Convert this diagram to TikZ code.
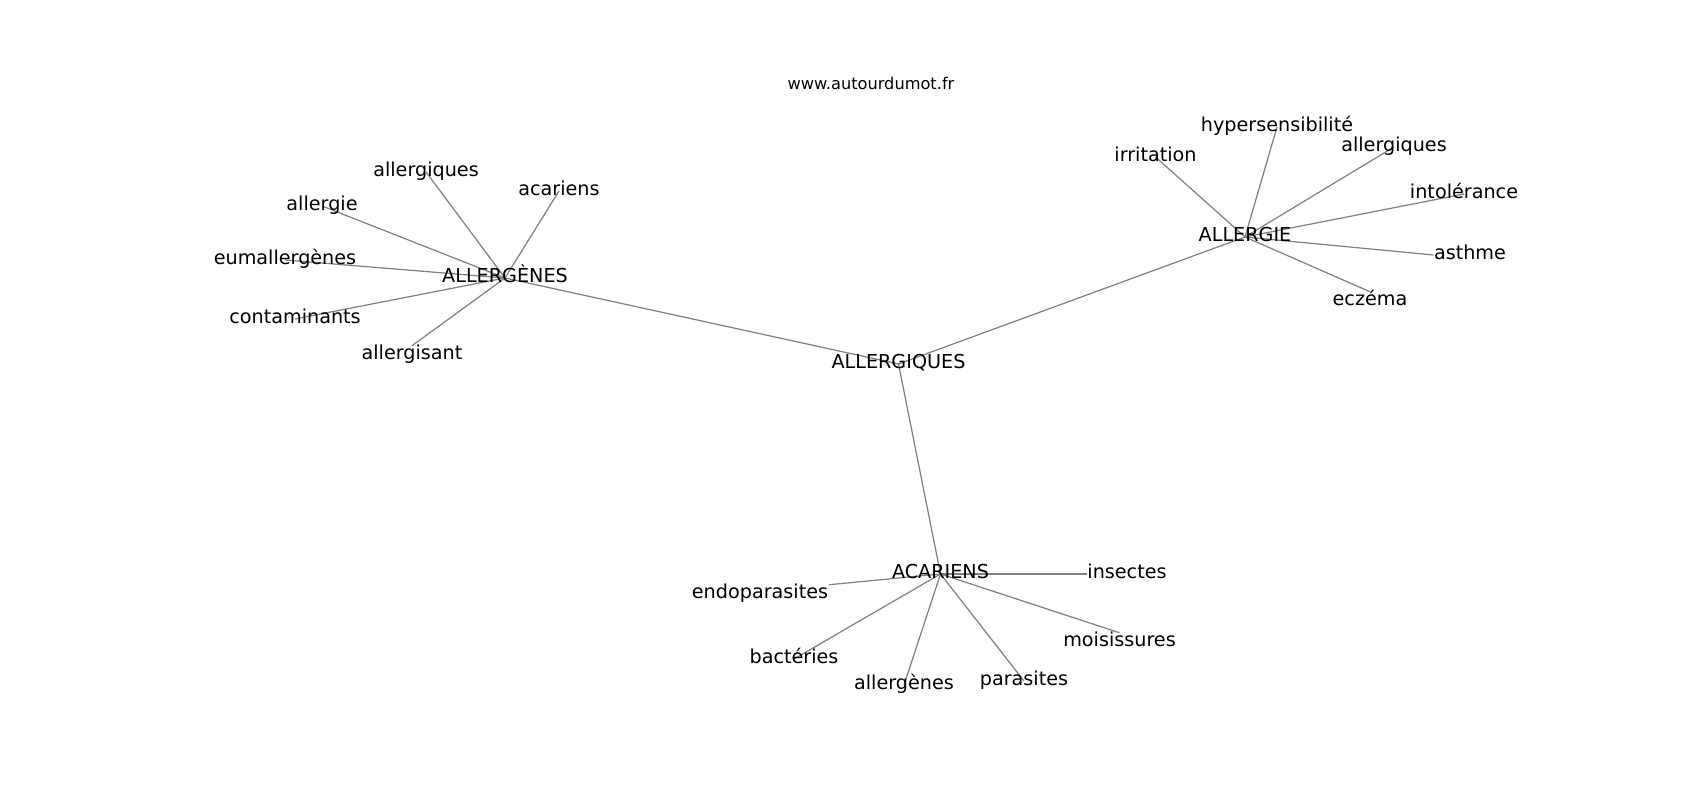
\documentclass[tikz,border=0pt]{standalone}
\usepackage{fontspec}
\setmainfont{DejaVu Sans}
\usetikzlibrary{backgrounds}
\newcommand{\wordfont}{\fontsize{5.46}{6.5}\selectfont}
\newcommand{\sitefont}{\fontsize{4.61}{5.5}\selectfont}
\begin{document}
\begin{tikzpicture}[word/.style={inner sep=0pt, text height=3.6pt, text depth=1.25pt, font=\wordfont},
  edge/.style={draw=gray, line width=0.35pt}]
\useasboundingbox (0,0) rectangle (17,8);
\node[inner sep=0pt, font=\sitefont] (site) at (8.71,7.17) {www.autourdumot.fr};

\node[word] (ALLERGIQUES) at (8.985,4.36) {ALLERGIQUES};
\node[word] (ALLERGENES) at (5.05,5.22) {ALLERGÈNES};
\node[word] (ALLERGIE) at (12.45,5.63) {ALLERGIE};
\node[word] (ACARIENS) at (9.405,2.26) {ACARIENS};

% autour de ALLERGENES
\node[word] (allergiques1) at (4.26,6.28) {allergiques};
\node[word] (acariens1) at (5.59,6.09) {acariens};
\node[word] (allergie1) at (3.22,5.94) {allergie};
\node[word] (eumallergenes) at (2.85,5.40) {eumallergènes};
\node[word] (contaminants) at (2.95,4.81) {contaminants};
\node[word] (allergisant) at (4.12,4.45) {allergisant};

% autour de ALLERGIE
\node[word] (irritation) at (11.555,6.43) {irritation};
\node[word] (hypersensibilite) at (12.77,6.73) {hypersensibilité};
\node[word] (allergiques2) at (13.94,6.53) {allergiques};
\node[word] (intolerance) at (14.64,6.06) {intolérance};
\node[word] (asthme) at (14.70,5.45) {asthme};
\node[word] (eczema) at (13.70,4.99) {eczéma};

% autour de ACARIENS
\node[word] (insectes) at (11.27,2.26) {insectes};
\node[word] (endoparasites) at (7.60,2.06) {endoparasites};
\node[word] (bacteries) at (7.94,1.41) {bactéries};
\node[word] (allergenes2) at (9.04,1.15) {allergènes};
\node[word] (parasites) at (10.24,1.19) {parasites};
\node[word] (moisissures) at (11.195,1.58) {moisissures};

\begin{pgfonlayer}{background}
\path[edge] (ALLERGIQUES.center) -- (ALLERGENES.center);
\path[edge] (ALLERGIQUES.center) -- (ALLERGIE.center);
\path[edge] (ALLERGIQUES.center) -- (ACARIENS.center);

\path[edge] (ALLERGENES.center) -- (allergiques1.center);
\path[edge] (ALLERGENES.center) -- (acariens1.center);
\path[edge] (ALLERGENES.center) -- (allergie1.center);
\path[edge] (ALLERGENES.center) -- (eumallergenes.center);
\path[edge] (ALLERGENES.center) -- (contaminants.center);
\path[edge] (ALLERGENES.center) -- (allergisant.north);

\path[edge] (ALLERGIE.center) -- (irritation.center);
\path[edge] (ALLERGIE.center) -- (hypersensibilite.center);
\path[edge] (ALLERGIE.center) -- (allergiques2.center);
\path[edge] (ALLERGIE.center) -- (intolerance.center);
\path[edge] (ALLERGIE.center) -- (asthme.west);
\path[edge] (ALLERGIE.center) -- (eczema.north);

\path[edge] (ACARIENS.center) -- (insectes.west);
\path[edge] (ACARIENS.center) -- (endoparasites.north east);
\path[edge] (ACARIENS.center) -- (bacteries.center);
\path[edge] (ACARIENS.center) -- (allergenes2.center);
\path[edge] (ACARIENS.center) -- (parasites.center);
\path[edge] (ACARIENS.center) -- (moisissures.north);
\end{pgfonlayer}
\end{tikzpicture}
\end{document}
